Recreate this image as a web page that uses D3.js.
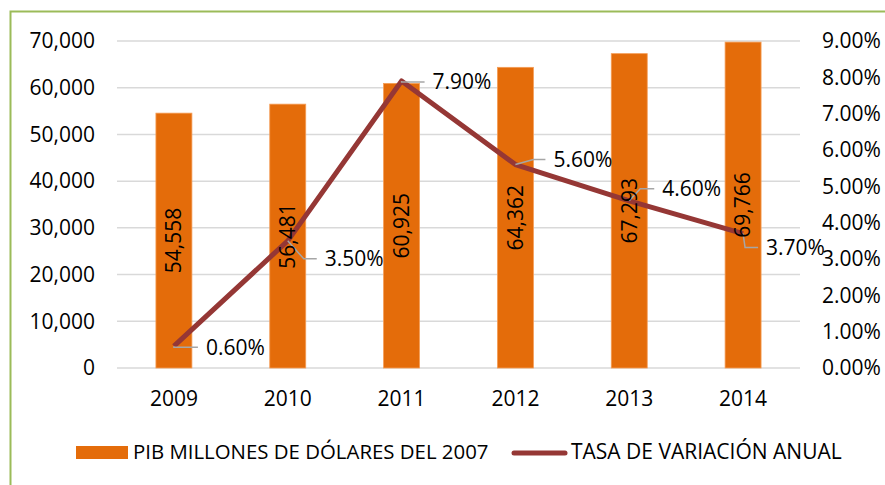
<!DOCTYPE html>
<html>
<head>
<meta charset="utf-8">
<script src="https://cdn.jsdelivr.net/npm/d3@7"></script>
<style>
  body { margin: 0; background: #fff; }
  text { font-family: "Open Sans", sans-serif; fill: #000; }
</style>
</head>
<body>
<svg id="chart"></svg>
<script>
// Data
const years = ["2009", "2010", "2011", "2012", "2013", "2014"];
const pib = [54558, 56481, 60925, 64362, 67293, 69766];
const tasa = [0.006, 0.035, 0.079, 0.056, 0.046, 0.037];
const leftTicks = [0, 10000, 20000, 30000, 40000, 50000, 60000, 70000];
const rightTicks = [0, 0.01, 0.02, 0.03, 0.04, 0.05, 0.06, 0.07, 0.08, 0.09];
const legendLabels = ["PIB MILLONES DE DÓLARES DEL 2007", "TASA DE VARIACIÓN ANUAL"];

// Layout for the line's data labels (text offset from point, elbow x of leader)
const labelOffsets = [
  { dx: 32, dy: 1, ex: 0 },
  { dx: 37, dy: 18, ex: 16 },
  { dx: 31, dy: 1, ex: 0 },
  { dx: 38, dy: -5, ex: 18 },
  { dx: 33, dy: -12, ex: 11 },
  { dx: 23, dy: 14, ex: 2 }
];

const width = 885, height = 485;
const plot = { left: 117, right: 800, top: 41, bottom: 368 };
const barColor = "#e46c0a";
const lineColor = "#953735";
const fontSize = 21;

const svg = d3.select("#chart").attr("width", width).attr("height", height);

// Outer frame (cut off on the right and bottom)
svg.append("rect")
  .attr("x", 10.5).attr("y", 11.5)
  .attr("width", 900).attr("height", 500)
  .attr("fill", "none")
  .attr("stroke", "#9bbb59")
  .attr("stroke-width", 2);

const x = d3.scaleBand().domain(years).range([plot.left, plot.right]).paddingInner(0.684).paddingOuter(0.342);
const yL = d3.scaleLinear().domain([0, 70000]).range([plot.bottom, plot.top]);
const yR = d3.scaleLinear().domain([0, 0.09]).range([plot.bottom, plot.top]);
const cx = d => x(d) + x.bandwidth() / 2;

// Gridlines
svg.append("g")
  .selectAll("line")
  .data(leftTicks)
  .join("line")
  .attr("x1", plot.left).attr("x2", plot.right)
  .attr("y1", d => yL(d)).attr("y2", d => yL(d))
  .attr("stroke", "#d9d9d9")
  .attr("stroke-width", 1.5);

// Left axis
const fmtL = d3.format(",");
svg.append("g")
  .selectAll("text")
  .data(leftTicks)
  .join("text")
  .attr("x", 95)
  .attr("y", d => yL(d))
  .attr("dy", "0.35em")
  .attr("text-anchor", "end")
  .style("font-size", fontSize + "px")
  .text(d => fmtL(d));

// Right axis
const fmtR = d3.format(".2%");
svg.append("g")
  .selectAll("text")
  .data(rightTicks)
  .join("text")
  .attr("x", 822)
  .attr("y", d => yR(d))
  .attr("dy", "0.35em")
  .attr("text-anchor", "start")
  .style("font-size", fontSize + "px")
  .text(d => fmtR(d));

// X axis labels
svg.append("g")
  .selectAll("text")
  .data(years)
  .join("text")
  .attr("x", d => cx(d))
  .attr("y", 399)
  .attr("dy", "0.35em")
  .attr("text-anchor", "middle")
  .style("font-size", fontSize + "px")
  .text(d => d);

// Bars
svg.append("g")
  .selectAll("rect")
  .data(pib)
  .join("rect")
  .attr("x", (d, i) => x(years[i]))
  .attr("y", d => yL(d))
  .attr("width", x.bandwidth())
  .attr("height", d => yL(0) - yL(d))
  .attr("fill", barColor)
  .attr("stroke", "#f59d56")
  .attr("stroke-width", 0.8);

// Line
const line = d3.line()
  .x((d, i) => cx(years[i]))
  .y(d => yR(d));
svg.append("path")
  .datum(tasa)
  .attr("d", line)
  .attr("fill", "none")
  .attr("stroke", lineColor)
  .attr("stroke-width", 5)
  .attr("stroke-linejoin", "round");

// Leader lines for line labels
svg.append("g")
  .selectAll("path")
  .data(tasa)
  .join("path")
  .attr("d", (d, i) => {
    const px = cx(years[i]), py = yR(d), o = labelOffsets[i];
    return d3.line()([[px, py], [px + o.ex, py + o.dy], [px + o.dx - 8, py + o.dy]]);
  })
  .attr("fill", "none")
  .attr("stroke", "#a6a6a6")
  .attr("stroke-width", 1.5);

// Bar value labels (rotated)
svg.append("g")
  .selectAll("text")
  .data(pib)
  .join("text")
  .attr("transform", (d, i) => `translate(${cx(years[i])},${(yL(d) + yL(0)) / 2}) rotate(-90)`)
  .attr("dy", "0.35em")
  .attr("text-anchor", "middle")
  .style("font-size", fontSize + "px")
  .text(d => fmtL(d));

// Line value labels
svg.append("g")
  .selectAll("text")
  .data(tasa)
  .join("text")
  .attr("x", (d, i) => cx(years[i]) + labelOffsets[i].dx)
  .attr("y", (d, i) => yR(d) + labelOffsets[i].dy)
  .attr("dy", "0.35em")
  .style("font-size", fontSize + "px")
  .text(d => fmtR(d));

// Legend
const legend = svg.append("g");
legend.append("rect")
  .attr("x", 76).attr("y", 446)
  .attr("width", 52).attr("height", 13)
  .attr("fill", barColor);
legend.append("text")
  .attr("x", 133).attr("y", 452)
  .attr("dy", "0.35em")
  .style("font-size", "20.4px")
  .text(legendLabels[0]);
legend.append("line")
  .attr("x1", 514).attr("x2", 565)
  .attr("y1", 453).attr("y2", 453)
  .attr("stroke", lineColor)
  .attr("stroke-width", 5)
  .attr("stroke-linecap", "round");
legend.append("text")
  .attr("x", 571).attr("y", 452)
  .attr("dy", "0.35em")
  .style("font-size", fontSize + "px")
  .text(legendLabels[1]);
</script>
</body>
</html>
